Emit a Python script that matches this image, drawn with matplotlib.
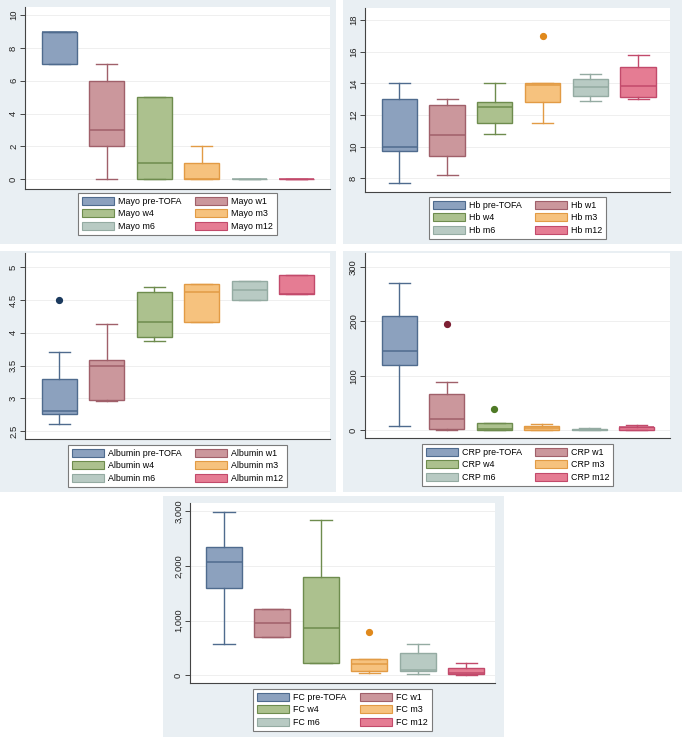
import matplotlib
matplotlib.use("Agg")
import matplotlib.pyplot as plt
from matplotlib.patches import Rectangle, Patch

plt.rcParams['font.family'] = ['Liberation Sans', 'DejaVu Sans']

W, H = 682, 737

groups = ['pre-TOFA', 'w1', 'w4', 'm3', 'm6', 'm12']

# box stats: whisker low, q1, median, q3, whisker high, outliers
mayo_lo = [7, 0, 0, 0, 0, 0]
mayo_q1 = [7, 2, 0, 0, 0, 0]
mayo_med = [9, 3, 1, 0, 0, 0]
mayo_q3 = [9, 6, 5, 1, 0, 0]
mayo_hi = [9, 7, 5, 2, 0, 0]
mayo_out = [[], [], [], [], [], []]

hb_lo = [7.7, 8.2, 10.8, 11.5, 12.9, 13.0]
hb_q1 = [9.7, 9.4, 11.5, 12.8, 13.2, 13.15]
hb_med = [10.0, 10.75, 12.5, 13.9, 13.75, 13.85]
hb_q3 = [13.0, 12.6, 12.8, 14.0, 14.25, 15.05]
hb_hi = [14.0, 13.0, 14.0, 14.0, 14.6, 15.8]
hb_out = [[], [], [], [17.0], [], []]

alb_lo = [2.6, 2.96, 3.88, 4.17, 4.5, 4.6]
alb_q1 = [2.76, 2.97, 3.93, 4.17, 4.5, 4.6]
alb_med = [2.8, 3.5, 4.17, 4.62, 4.65, 4.6]
alb_q3 = [3.29, 3.59, 4.62, 4.75, 4.79, 4.89]
alb_hi = [3.7, 4.14, 4.7, 4.75, 4.79, 4.89]
alb_out = [[4.5], [], [], [], [], []]

crp_lo = [7.5, 1.2, 0.6, 0.6, 0.6, 1.2]
crp_q1 = [120, 1.8, 0.6, 0.6, 0.6, 1.2]
crp_med = [146, 21, 1.8, 5, 1.5, 5.5]
crp_q3 = [210, 67, 13.5, 8.6, 2.5, 6.1]
crp_hi = [270, 88, 13.5, 11.7, 4.3, 9.8]
crp_out = [[], [195], [38.7], [], [], []]

fc_lo = [582, 698, 220, 49, 31, 12]
fc_q1 = [1604, 698, 233, 86, 86, 18]
fc_med = [2069, 949, 857, 208, 90, 43]
fc_q3 = [2345, 1206, 1794, 300, 416, 129]
fc_hi = [2988, 1206, 2835, 300, 569, 233]
fc_out = [[], [], [], [784], [], []]

mayo_ticks = [0, 2, 4, 6, 8, 10]
hb_ticks = [8, 10, 12, 14, 16, 18]
alb_ticks = [2.5, 3, 3.5, 4, 4.5, 5]
crp_ticks = [0, 100, 200, 300]
fc_ticks = [0, 1000, 2000, 3000]

fills = ['#8ca1be', '#cb979c', '#acc18e', '#f6c27e', '#b8cac3', '#e57c93']
edges = ['#4f6b8e', '#a0606a', '#6e8c4e', '#e29b45', '#94aba2', '#c24a6b']
dot_cols = ['#1b3a5e', '#7d1f33', '#4f7a26', '#e0891c', '#94aba2', '#c24a6b']


def frac(x0, y0, x1, y1):
    return [x0 / W, 1 - y1 / H, (x1 - x0) / W, (y1 - y0) / H]


fig = plt.figure(figsize=(W / 100, H / 100), dpi=100)
fig.patch.set_facecolor('white')


def panel(name, bg, axbox, ylim, xlim, lo, q1, med, q3, hi, out, ticks, ticklabels, leg_top):
    x0, y0, x1, y1 = bg
    fig.add_artist(Rectangle((x0 / W, 1 - y1 / H), (x1 - x0) / W, (y1 - y0) / H,
                             transform=fig.transFigure, facecolor='#e9eff3',
                             edgecolor='none', zorder=-5))
    ax = fig.add_axes(frac(*axbox))
    ax.set_facecolor('white')
    for i in range(6):
        st = [dict(whislo=lo[i], q1=q1[i], med=med[i], q3=q3[i], whishi=hi[i], fliers=out[i])]
        ax.bxp(st, positions=[i + 1], widths=0.74, capwidths=0.44, patch_artist=True,
               boxprops=dict(facecolor=fills[i], edgecolor=edges[i], linewidth=1.0),
               medianprops=dict(color=edges[i], linewidth=1.1),
               whiskerprops=dict(color=edges[i], linewidth=1.0),
               capprops=dict(color=edges[i], linewidth=1.0),
               flierprops=dict(marker='o', markersize=4.2, markerfacecolor=dot_cols[i],
                               markeredgecolor=dot_cols[i]),
               manage_ticks=False, zorder=3)
    ax.set_xlim(*xlim)
    ax.set_ylim(*ylim)
    ax.set_xticks([])
    ax.set_yticks(ticks)
    ax.set_yticklabels(ticklabels, rotation=90, va='center', fontsize=6.8, color='#222222')
    ax.tick_params(axis='y', length=3.5, width=0.7, color='#444444', pad=1.5)
    ax.grid(axis='y', color='#efefef', linewidth=0.7, zorder=0)
    ax.set_axisbelow(True)
    for s in ['top', 'right']:
        ax.spines[s].set_visible(False)
    for s in ['left', 'bottom']:
        ax.spines[s].set_color('#444444')
        ax.spines[s].set_linewidth(0.8)

    order = [0, 2, 4, 1, 3, 5]
    handles = [Patch(facecolor=fills[k], edgecolor=edges[k], linewidth=0.8) for k in order]
    labels = [name + ' ' + groups[k] for k in order]
    cx = (axbox[0] + axbox[2]) / 2
    leg = ax.legend(handles, labels, ncol=2, loc='upper center',
                    bbox_to_anchor=(cx / W, 1 - leg_top / H), bbox_transform=fig.transFigure,
                    fontsize=6.4, frameon=True, fancybox=False, framealpha=1,
                    edgecolor='#7a7a7a', handlelength=3.6, handleheight=0.95,
                    handletextpad=0.45, columnspacing=1.5, labelspacing=0.38,
                    borderpad=0.45, borderaxespad=0)
    leg.get_frame().set_linewidth(0.8)
    return ax


panel('Mayo', (0, 0, 336, 244), (25, 7, 330, 189), (-0.6, 10.5), (0.28, 6.7),
      mayo_lo, mayo_q1, mayo_med, mayo_q3, mayo_hi, mayo_out,
      mayo_ticks, [str(t) for t in mayo_ticks], 193)

panel('Hb', (343, 0, 682, 244), (365, 8, 670, 192), (7.13, 18.76), (0.28, 6.67),
      hb_lo, hb_q1, hb_med, hb_q3, hb_hi, hb_out,
      hb_ticks, [str(t) for t in hb_ticks], 197)

panel('Albumin', (0, 251, 336, 492), (25, 253, 330, 439), (2.378, 5.22), (0.28, 6.7),
      alb_lo, alb_q1, alb_med, alb_q3, alb_hi, alb_out,
      alb_ticks, ['2.5', '3', '3.5', '4', '4.5', '5'], 445)

panel('CRP', (343, 251, 682, 492), (365, 253, 670, 438), (-14.1, 325.8), (0.28, 6.7),
      crp_lo, crp_q1, crp_med, crp_q3, crp_hi, crp_out,
      crp_ticks, [str(t) for t in crp_ticks], 444)

panel('FC', (163, 496, 504, 737), (190, 503, 495, 683), (-140.8, 3153), (0.30, 6.59),
      fc_lo, fc_q1, fc_med, fc_q3, fc_hi, fc_out,
      fc_ticks, ['{:,}'.format(t) for t in fc_ticks], 689)

fig.savefig('out.png', dpi=100, facecolor='white')
